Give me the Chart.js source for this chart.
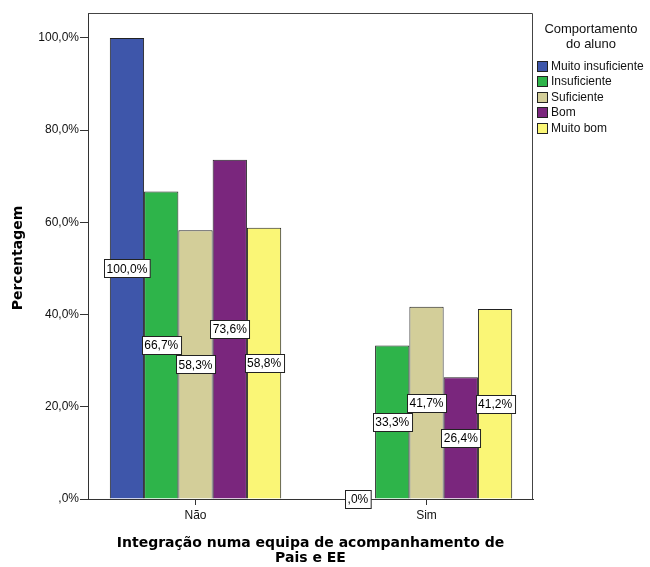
<!DOCTYPE html>
<html>
<head>
<meta charset="utf-8">
<script src="https://cdn.jsdelivr.net/npm/chart.js@4"></script>
<style>
  html, body { margin: 0; padding: 0; background: #fff; }
  #wrap { width: 650px; height: 567px; }
</style>
</head>
<body>
<div id="wrap"><canvas id="myBarChart" width="650" height="567"></canvas></div>
<script>
const categories = ["Não", "Sim"];
const seriesNames = ["Muito insuficiente", "Insuficiente", "Suficiente", "Bom", "Muito bom"];
const muitoInsuficiente = [100.0, 0.0];
const insuficiente = [66.7, 33.3];
const suficiente = [58.3, 41.7];
const bom = [73.6, 26.4];
const muitoBom = [58.8, 41.2];
const yTicks = [0, 20, 40, 60, 80, 100];

const seriesValues = [muitoInsuficiente, insuficiente, suficiente, bom, muitoBom];
const colors = [
  "rgb(62, 86, 170)",
  "rgb(46, 180, 74)",
  "rgb(211, 206, 153)",
  "rgb(122, 38, 125)",
  "rgb(250, 246, 118)",
];

const fmt = (v) => {
  const s = v.toFixed(1).replace(".", ",");
  return (s.startsWith("0,") ? s.slice(1) : s) + "%";
};

// labels in boxes, legend, titles and frame
const extras = {
  id: "extras",
  afterDatasetsDraw(chart) {
    const c = chart.ctx;
    const a = chart.chartArea;
    c.save();
    // frame
    c.strokeStyle = "#444";
    c.lineWidth = 1;
    c.beginPath();
    c.moveTo(a.left, a.top + 0.5);
    c.lineTo(a.right - 0.5, a.top + 0.5);
    c.lineTo(a.right - 0.5, a.bottom);
    c.stroke();

    // value boxes
    c.font = "12px 'Liberation Sans', Arial, sans-serif";
    c.textAlign = "center";
    c.textBaseline = "middle";
    chart.data.datasets.forEach((ds, i) => {
      const meta = chart.getDatasetMeta(i);
      meta.data.forEach((bar, j) => {
        const txt = fmt(seriesValues[i][j]);
        const w = c.measureText(txt).width + 5;
        const h = 18;
        const cy = (bar.y + bar.base) / 2;
        const x0 = Math.round(bar.x - w / 2) + 0.5;
        const y0 = Math.round(cy - h / 2) + 0.5;
        c.fillStyle = "#fff";
        c.fillRect(x0, y0, w, h);
        c.strokeStyle = "#222";
        c.strokeRect(x0, y0, w, h);
        c.fillStyle = "#000";
        c.fillText(txt, bar.x, cy + 1);
      });
    });

    // legend
    c.fillStyle = "#111";
    c.font = "13px 'Liberation Sans', Arial, sans-serif";
    c.textAlign = "center";
    c.fillText("Comportamento", 591, 29);
    c.fillText("do aluno", 591, 44);
    c.font = "12px 'Liberation Sans', Arial, sans-serif";
    c.textAlign = "left";
    const rows = [67, 82, 98, 113, 129];
    seriesNames.forEach((n, i) => {
      c.fillStyle = colors[i];
      c.fillRect(537.5, rows[i] - 5.5, 10, 10);
      c.strokeStyle = "#222";
      c.strokeRect(537.5, rows[i] - 5.5, 10, 10);
      c.fillStyle = "#111";
      c.fillText(n, 551, rows[i]);
    });

    // axis titles
    c.font = "bold 14px 'DejaVu Sans', sans-serif";
    c.fillStyle = "#000";
    c.textAlign = "center";
    c.fillText("Integração numa equipa de acompanhamento de", (a.left + a.right) / 2, 543);
    c.fillText("Pais e EE", (a.left + a.right) / 2, 558);
    c.translate(18, 258);
    c.rotate(-Math.PI / 2);
    c.fillText("Percentagem", 0, 0);
    c.restore();
  },
};

const ctx1 = document.getElementById("myBarChart");

new Chart(ctx1, {
  type: "bar",
  data: {
    datasets: seriesNames.map((name, i) => ({
      label: name,
      data: seriesValues[i].map((v, j) => ({ x: j, y: v })),
      backgroundColor: colors[i],
      borderColor: "#222",
      borderWidth: 1,
      categoryPercentage: 0.742,
      barPercentage: 1.0,
    })),
  },
  options: {
    responsive: false,
    animation: false,
    layout: {
      padding: { top: 13, right: 117, left: 0, bottom: 0 },
    },
    plugins: {
      legend: { display: false },
      tooltip: { enabled: false },
    },
    scales: {
      x: {
        type: "linear",
        offset: false,
        min: -0.4654,
        max: 1.461,
        afterBuildTicks: (s) => {
          s.ticks = categories.map((_, j) => ({ value: j }));
        },
        afterFit: (s) => {
          s.height = 68;
        },
        ticks: {
          color: "#111",
          font: { size: 12, family: "'Liberation Sans', Arial, sans-serif" },
          callback: (v) => categories[v],
          padding: 3,
          maxRotation: 0,
        },
        grid: {
          offset: false,
          drawOnChartArea: false,
          tickLength: 6,
          color: "#333",
        },
        border: { color: "#333" },
      },
      y: {
        min: 0,
        max: 105.4,
        afterBuildTicks: (s) => {
          s.ticks = yTicks.map((v) => ({ value: v }));
        },
        afterFit: (s) => {
          s.width = 88;
        },
        ticks: {
          color: "#111",
          font: { size: 12, family: "'Liberation Sans', Arial, sans-serif" },
          callback: (v) => fmt(v),
          padding: 1,
        },
        grid: {
          drawOnChartArea: false,
          tickLength: 8,
          color: "#333",
        },
        border: { color: "#333" },
      },
    },
  },
  plugins: [extras],
});
</script>
</body>
</html>
